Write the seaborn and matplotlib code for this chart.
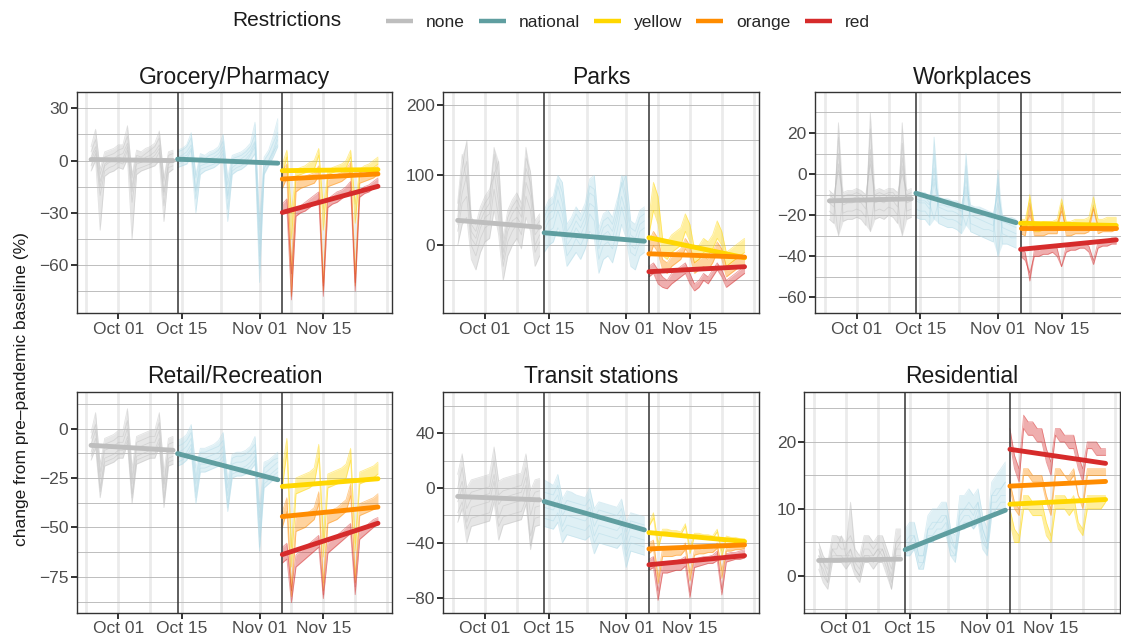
import numpy as np
import pandas as pd
import matplotlib
matplotlib.use('Agg')
import matplotlib.pyplot as plt
import matplotlib.dates as mdates
from matplotlib.lines import Line2D
import seaborn as sns

sns.set_style('ticks')
plt.rcParams['font.family'] = ['Liberation Sans', 'DejaVu Sans']

# ---- data (% change from baseline) ----
dates = pd.date_range('2020-09-25', '2020-11-27')
national_start = pd.Timestamp('2020-10-14')
tiers_start = pd.Timestamp('2020-11-06')
tiers = ['yellow', 'yellow', 'orange', 'orange', 'red', 'red']
restrictions = ['none', 'national', 'yellow', 'orange', 'red']
major_dates = ['2020-10-01', '2020-10-15', '2020-11-01', '2020-11-15']
minor_dates = ['2020-09-24', '2020-10-08', '2020-10-23T12:00', '2020-11-08', '2020-11-22', '2020-11-29']

# six example provinces per panel: Sep 25 - Oct 13 | Oct 14 - Nov 05 | Nov 06 - Nov 27
grocery = [
    [2, 8, -12, -2, 0, 1, 3, 4, 10, -15, 0, -1, 2, 3, 5, 9, -18, -1, 1]
    + [2, 3, 5, 9, -17, 0, -1, 1, 2, 4, 8, -20, -2, 0, 1, 3, 6, 11, -48, -4, 0, 5, 9]
    + [-2, 6, -30, -5, -4, -3, -1, 0, 7, -28, -6, -4, -3, -2, 0, 6, -25, -5, -3, -2, 0, 2],
    [-3, 4, -20, -6, -4, -3, -1, -2, 6, -24, -5, -4, -3, -2, 0, 5, -26, -4, -3]
    + [-2, -1, 1, 6, -22, -5, -4, -3, -2, 0, 4, -28, -6, -4, -3, -1, 3, 8, -62, -7, -2, 4, 12]
    + [-8, 2, -45, -9, -8, -7, -6, -5, 3, -40, -8, -7, -6, -5, -4, 2, -36, -7, -6, -5, -4, -2],
    [5, 12, -8, 2, 3, 4, 6, 7, 14, -10, 3, 2, 4, 6, 8, 13, -12, 3, 4]
    + [5, 6, 8, 13, -10, 2, 1, 3, 4, 6, 11, -14, 1, 2, 3, 5, 8, 15, -40, 0, 4, 10, 16]
    + [-6, -2, -60, -12, -10, -9, -8, -7, -3, -70, -11, -9, -8, -7, -5, -1, -65, -9, -8, -6, -5, -3],
    [-6, 0, -40, -9, -7, -6, -4, -5, 1, -45, -8, -6, -5, -4, -3, 0, -35, -7, -5]
    + [-4, -3, -2, 2, -30, -8, -6, -5, -4, -2, 1, -35, -8, -6, -5, -3, 0, 4, -70, -8, -3, 2, 8]
    + [-16, -10, -78, -18, -16, -15, -14, -13, -9, -75, -15, -14, -13, -12, -10, -6, -72, -13, -12, -11, -10, -8],
    [0, 6, -15, -3, -1, 0, 2, 1, 8, -18, -2, -1, 0, 1, 3, 7, -20, -2, 0]
    + [1, 2, 3, 7, -18, -3, -2, -1, 0, 2, 6, -22, -4, -2, -1, 1, 4, 10, -55, -5, 0, 6, 14]
    + [-25, -22, -65, -28, -26, -24, -22, -20, -18, -72, -22, -20, -18, -17, -15, -12, -70, -17, -15, -14, -12, -10],
    [8, 18, -5, 5, 6, 7, 9, 9, 20, -8, 6, 5, 7, 8, 10, 17, -10, 5, 6]
    + [6, 7, 9, 16, -8, 4, 3, 5, 6, 8, 15, -10, 3, 4, 5, 7, 10, 22, -35, 2, 6, 14, 24]
    + [-30, -28, -80, -32, -30, -29, -27, -25, -22, -78, -27, -25, -24, -22, -20, -17, -75, -21, -19, -18, -16, -14],
]
parks = [
    [40, 95, 120, 20, 10, 35, 50, 60, 130, 80, -10, 30, 45, 55, 40, 110, 90, 15, 25]
    + [30, 45, 50, 85, 60, 10, 20, 35, 25, 40, 75, 70, 5, 25, 30, 20, 45, 90, 60, 15, 10, 30, 35]
    + [40, 90, 70, 10, 5, 15, 20, 25, 45, 30, -5, 0, 10, 5, 15, 35, 20, -10, -5, 0, 5, 10],
    [20, 60, 70, 0, -15, 10, 25, 30, 80, 40, -30, 5, 20, 30, 15, 70, 50, -10, 5]
    + [10, 20, 25, 50, 30, -15, -5, 10, 0, 15, 45, 35, -20, 0, 5, -5, 20, 55, 30, -10, -15, 5, 10]
    + [15, 50, 30, -15, -20, -10, -5, 0, 20, 5, -25, -20, -10, -15, -5, 10, 0, -30, -25, -20, -15, -10],
    [50, 110, 150, 30, 20, 45, 60, 70, 140, 100, 0, 40, 55, 65, 50, 125, 105, 25, 35]
    + [40, 55, 60, 95, 75, 20, 30, 45, 35, 50, 85, 80, 15, 35, 40, 30, 55, 100, 70, 25, 20, 40, 45]
    + [5, 20, 10, -20, -25, -15, -10, -5, 10, 0, -25, -20, -15, -20, -10, 5, -5, -30, -25, -20, -20, -15],
    [0, 30, 40, -20, -35, -10, 5, 10, 50, 15, -50, -15, 0, 10, -5, 40, 20, -30, -15]
    + [-10, 0, 5, 25, 10, -30, -20, -10, -20, -5, 20, 10, -40, -20, -15, -25, 0, 30, 10, -30, -35, -15, -10]
    + [-20, 0, -10, -35, -40, -30, -25, -20, -5, -15, -40, -35, -30, -35, -25, -10, -20, -45, -40, -35, -30, -30],
    [30, 75, 100, 10, 0, 25, 40, 45, 105, 60, -20, 20, 35, 40, 30, 90, 70, 0, 15]
    + [20, 35, 40, 65, 45, 0, 10, 25, 15, 30, 60, 55, -5, 15, 20, 10, 35, 70, 45, 0, -5, 20, 25]
    + [-30, -25, -35, -45, -50, -40, -35, -30, -25, -40, -55, -50, -40, -45, -35, -25, -35, -50, -45, -40, -35, -30],
    [60, 130, 90, 40, 30, 55, 70, 80, 100, 120, 10, 50, 65, 75, 60, 140, 80, 35, 45]
    + [50, 65, 70, 100, 90, 30, 40, 55, 45, 60, 95, 100, 25, 45, 50, 40, 65, 85, 100, 35, 30, 50, 55]
    + [-45, -40, -55, -60, -62, -55, -50, -45, -40, -55, -65, -60, -50, -55, -45, -35, -45, -60, -55, -50, -45, -40],
]
workplaces = [
    [-12, -14, 10, -13, -12, -12, -11, -12, -14, 12, -12, -11, -12, -10, -11, -13, 8, -12, -11]
    + [-12, -13, -13, -15, 3, -15, -15, -16, -16, -17, -18, -2, -18, -19, -19, -20, -20, -21, -6, -22, -22, -23, -23]
    + [-22, -22, -12, -24, -24, -23, -23, -23, -22, -12, -23, -23, -22, -22, -22, -21, -11, -22, -22, -21, -21, -21],
    [-18, -20, 18, -19, -18, -18, -17, -18, -21, 22, -18, -17, -18, -16, -17, -20, 15, -18, -17]
    + [-17, -18, -18, -21, 10, -20, -21, -22, -22, -23, -25, 4, -24, -25, -26, -27, -27, -28, -2, -29, -30, -31, -31]
    + [-26, -27, -10, -28, -28, -27, -27, -27, -26, -14, -27, -27, -26, -26, -26, -25, -15, -26, -26, -25, -25, -25],
    [-8, -10, 2, -9, -8, -8, -7, -8, -10, 5, -8, -7, -8, -7, -7, -9, 0, -8, -7]
    + [-8, -9, -9, -11, -2, -11, -12, -12, -13, -13, -15, -6, -15, -16, -16, -17, -18, -19, -10, -20, -21, -21, -22]
    + [-24, -25, -20, -26, -26, -26, -25, -25, -24, -18, -26, -26, -25, -25, -25, -24, -17, -25, -25, -24, -24, -24],
    [-22, -24, 25, -23, -22, -22, -21, -22, -25, 30, -22, -21, -22, -20, -21, -24, 25, -22, -21]
    + [-21, -22, -22, -25, 18, -24, -25, -26, -26, -27, -29, 10, -28, -29, -30, -31, -32, -33, 2, -34, -34, -35, -36]
    + [-29, -30, -14, -30, -30, -30, -29, -29, -29, -15, -30, -30, -29, -29, -29, -28, -16, -29, -28, -28, -28, -27],
    [-14, -16, 5, -15, -14, -14, -13, -14, -17, 8, -14, -13, -14, -12, -13, -16, 4, -14, -13]
    + [-13, -14, -14, -17, -4, -16, -17, -18, -18, -19, -21, -8, -20, -21, -22, -23, -24, -25, -14, -26, -27, -28, -29]
    + [-36, -38, -52, -37, -37, -36, -36, -35, -36, -45, -35, -35, -34, -34, -33, -35, -42, -33, -32, -32, -31, -31],
    [-10, -12, -30, -11, -10, -10, -9, -10, -13, -28, -10, -9, -10, -9, -9, -12, -30, -10, -9]
    + [-10, -11, -11, -14, -22, -13, -14, -15, -15, -16, -18, -25, -17, -18, -19, -20, -21, -22, -40, -23, -24, -25, -26]
    + [-40, -42, -48, -40, -40, -39, -39, -38, -40, -45, -38, -37, -37, -36, -36, -38, -44, -36, -35, -35, -34, -34],
]
retail = [
    [-5, 2, -22, -8, -7, -6, -4, -4, 4, -25, -7, -6, -5, -4, -4, 3, -28, -8, -7]
    + [-9, -8, -6, -2, -25, -12, -12, -11, -10, -9, -6, -30, -15, -14, -14, -13, -11, -8, -45, -20, -18, -16, -15]
    + [-20, -5, -60, -25, -24, -23, -22, -20, -8, -55, -23, -22, -21, -20, -18, -10, -58, -22, -21, -20, -19, -17],
    [-12, -5, -30, -15, -14, -13, -11, -11, -4, -33, -14, -13, -12, -11, -11, -5, -35, -15, -14]
    + [-15, -14, -12, -8, -32, -18, -18, -17, -16, -15, -12, -38, -21, -20, -20, -19, -17, -14, -55, -26, -24, -22, -20]
    + [-30, -12, -70, -33, -32, -31, -30, -28, -15, -65, -30, -29, -28, -27, -25, -16, -62, -28, -27, -26, -25, -23],
    [-2, 8, -18, -5, -4, -3, -1, -1, 10, -20, -4, -3, -2, -1, -1, 8, -22, -5, -4]
    + [-6, -5, -3, 2, -20, -10, -10, -9, -8, -6, -2, -26, -13, -12, -12, -11, -9, -4, -40, -17, -16, -14, -12]
    + [-42, -35, -80, -45, -44, -43, -42, -40, -32, -78, -42, -41, -40, -38, -36, -28, -75, -38, -37, -36, -35, -33],
    [-16, -10, -35, -19, -18, -17, -15, -15, -8, -38, -18, -17, -16, -15, -15, -9, -40, -19, -18]
    + [-19, -18, -16, -12, -38, -22, -22, -21, -20, -19, -16, -42, -25, -24, -24, -23, -21, -18, -62, -30, -28, -26, -24]
    + [-50, -42, -85, -52, -51, -50, -48, -46, -38, -82, -48, -47, -46, -44, -42, -34, -78, -44, -43, -42, -41, -40],
    [-8, -1, -25, -11, -10, -9, -7, -7, 0, -28, -10, -9, -8, -7, -7, -1, -30, -11, -10]
    + [-12, -11, -9, -5, -28, -15, -15, -14, -13, -12, -9, -34, -18, -17, -17, -16, -14, -11, -50, -23, -21, -19, -17]
    + [-60, -58, -82, -64, -62, -60, -58, -56, -54, -84, -58, -56, -54, -52, -50, -48, -80, -52, -50, -48, -46, -45],
    [-14, -8, -32, -17, -16, -15, -13, -13, -6, -35, -16, -15, -14, -13, -13, -7, -38, -17, -16]
    + [-17, -16, -14, -10, -35, -20, -20, -19, -18, -17, -14, -40, -23, -22, -22, -21, -19, -16, -60, -28, -26, -24, -22]
    + [-68, -66, -88, -70, -68, -66, -64, -62, -60, -86, -63, -61, -59, -57, -55, -53, -84, -56, -54, -52, -50, -48],
]
transit = [
    [-5, 5, -15, -8, -7, -6, -5, -4, 10, -12, -7, -6, -5, -4, -3, 8, -20, -8, -7]
    + [-8, -9, -10, -5, -20, -14, -15, -16, -17, -18, -14, -28, -21, -22, -23, -24, -25, -20, -38, -28, -29, -30, -31]
    + [-28, -22, -45, -32, -32, -33, -33, -34, -28, -48, -35, -35, -36, -36, -37, -32, -50, -37, -38, -38, -39, -39],
    [10, 25, 0, 6, 7, 8, 9, 10, 30, 5, 7, 8, 9, 10, 11, 25, -2, 6, 7]
    + [6, 4, 2, 10, -8, -2, -3, -5, -6, -7, 0, -15, -10, -11, -12, -13, -14, -8, -25, -18, -19, -20, -21]
    + [-25, -18, -40, -30, -30, -31, -31, -32, -26, -44, -33, -33, -34, -34, -35, -30, -46, -35, -36, -36, -37, -37],
    [-18, -10, -30, -22, -21, -20, -19, -18, -5, -28, -21, -20, -19, -18, -17, -8, -35, -22, -21]
    + [-22, -23, -24, -18, -32, -27, -28, -29, -30, -31, -27, -40, -33, -34, -35, -36, -37, -33, -50, -40, -41, -42, -43]
    + [-40, -38, -65, -44, -44, -45, -45, -45, -40, -62, -45, -45, -44, -44, -44, -40, -60, -44, -43, -43, -43, -42],
    [-10, 0, -25, -14, -13, -12, -11, -10, 5, -22, -13, -12, -11, -10, -9, 2, -45, -14, -13]
    + [-14, -15, -16, -10, -28, -20, -21, -22, -23, -24, -20, -35, -27, -28, -29, -30, -31, -27, -45, -35, -36, -37, -38]
    + [-48, -45, -70, -50, -50, -50, -49, -49, -45, -68, -49, -48, -48, -47, -47, -44, -66, -46, -46, -45, -45, -44],
    [0, 15, -8, -3, -2, -1, 0, 1, 20, -5, -2, -1, 0, 1, 2, 15, -10, -3, -2]
    + [-3, -4, -5, 2, -15, -9, -10, -11, -12, -13, -8, -22, -16, -17, -18, -19, -20, -15, -32, -24, -25, -26, -27]
    + [-52, -50, -75, -55, -54, -54, -53, -52, -50, -76, -52, -51, -50, -50, -49, -46, -74, -48, -47, -47, -46, -45],
    [-25, -15, -40, -28, -27, -26, -25, -24, -10, -38, -27, -26, -25, -24, -23, -12, -42, -28, -27]
    + [-28, -29, -30, -25, -40, -34, -35, -36, -37, -38, -35, -48, -40, -41, -42, -43, -44, -40, -58, -46, -47, -48, -49]
    + [-60, -58, -82, -62, -62, -61, -60, -60, -57, -80, -58, -57, -56, -55, -55, -53, -78, -54, -53, -52, -52, -51],
]
residential = [
    [2, 1, -1, 3, 3, 3, 2, 4, 1, 0, 3, 3, 2, 3, 4, 2, -1, 4, 4]
    + [4, 5, 5, 2, 2, 6, 6, 7, 7, 8, 4, 3, 8, 9, 9, 8, 10, 6, 4, 11, 11, 12, 12]
    + [10, 7, 6, 12, 12, 11, 11, 11, 8, 6, 12, 12, 12, 11, 12, 8, 7, 12, 12, 12, 12, 12],
    [4, 2, 1, 5, 5, 4, 4, 11, 3, 2, 5, 5, 4, 5, 5, 3, 1, 5, 6]
    + [5, 6, 6, 3, 3, 7, 8, 8, 9, 9, 6, 4, 10, 10, 11, 10, 11, 7, 5, 12, 13, 13, 14]
    + [8, 5, 5, 10, 10, 9, 9, 9, 6, 5, 10, 10, 10, 9, 10, 7, 6, 10, 10, 10, 10, 11],
    [3, 0, -1, 4, 3, 3, 3, 3, 1, 0, 3, 3, 3, 4, 3, 1, -2, 4, 5]
    + [3, 4, 4, 1, 2, 5, 5, 6, 6, 7, 3, 3, 7, 8, 8, 7, 9, 5, 4, 10, 10, 11, 11]
    + [13, 10, 9, 15, 15, 14, 14, 14, 11, 9, 15, 15, 15, 14, 15, 12, 10, 15, 15, 15, 15, 15],
    [1, -1, -2, 2, 2, 2, 1, 2, 0, -1, 2, 2, 1, 2, 2, 0, -2, 3, 3]
    + [3, 3, 4, 1, 1, 5, 5, 6, 6, 6, 3, 2, 7, 7, 8, 7, 8, 4, 3, 9, 10, 10, 10]
    + [14, 11, 10, 16, 16, 15, 15, 15, 12, 10, 16, 16, 15, 15, 16, 12, 11, 16, 16, 16, 16, 16],
    [3, 2, 0, 4, 4, 6, 3, 4, 2, 1, 4, 4, 3, 4, 4, 2, 0, 5, 5]
    + [5, 5, 6, 3, 3, 7, 7, 8, 8, 9, 5, 4, 9, 10, 10, 9, 11, 7, 5, 12, 12, 13, 14]
    + [20, 16, 14, 22, 21, 21, 20, 20, 17, 15, 21, 20, 20, 19, 19, 16, 14, 19, 19, 18, 18, 18],
    [5, 3, 2, 6, 6, 5, 5, 6, 4, 3, 6, 6, 5, 6, 6, 4, 2, 7, 7]
    + [7, 8, 8, 5, 5, 9, 10, 10, 11, 11, 7, 6, 12, 12, 13, 12, 13, 9, 7, 14, 15, 16, 17]
    + [22, 18, 16, 24, 23, 23, 22, 22, 19, 17, 22, 22, 21, 21, 21, 18, 16, 20, 20, 20, 19, 19],
]

# fitted trend per restriction: (value at start of period, value at end of period)
trend_grocery = {'none': (0.6, 0.0), 'national': (0.8, -1.5), 'yellow': (-5.8, -5.2),
                 'orange': (-10.6, -7.7), 'red': (-29.8, -14.8)}
trend_parks = {'none': (35.7, 26.0), 'national': (18.0, 6.0), 'yellow': (11.0, -17.6),
               'orange': (-12.0, -16.7), 'red': (-37.6, -30.5)}
trend_workplaces = {'none': (-13.0, -12.0), 'national': (-9.3, -23.6), 'yellow': (-23.9, -25.0),
                    'orange': (-26.3, -26.3), 'red': (-36.6, -32.0)}
trend_retail = {'none': (-8.5, -11.0), 'national': (-12.7, -25.9), 'yellow': (-29.3, -25.4),
                'orange': (-44.5, -39.7), 'red': (-63.7, -47.9)}
trend_transit = {'none': (-6.1, -8.6), 'national': (-9.8, -30.5), 'yellow': (-32.5, -39.0),
                 'orange': (-44.4, -41.5), 'red': (-56.0, -49.3)}
trend_residential = {'none': (2.3, 2.5), 'national': (3.9, 9.8), 'yellow': (10.7, 11.4),
                     'orange': (13.4, 14.1), 'red': (18.9, 16.8)}

line_col = {'none': '#BEBEBE', 'national': '#ADD8E6', 'yellow': '#FFD700',
            'orange': '#FF8C00', 'red': '#D62B2B'}
trend_col = {'none': '#BEBEBE', 'national': '#5F9EA0', 'yellow': '#FFD700',
             'orange': '#FF8C00', 'red': '#D62B2B'}

periods = {'none': (dates[0], national_start - pd.Timedelta(days=1)),
           'national': (national_start, tiers_start - pd.Timedelta(days=1)),
           'yellow': (tiers_start, dates[-1]),
           'orange': (tiers_start, dates[-1]),
           'red': (tiers_start, dates[-1])}

W, H = 1121, 635
fig = plt.figure(figsize=(W / 100, H / 100), dpi=100)


def add_panel(left, top, series, trend, title, ylim, major, minor):
    ax = fig.add_axes([left / W, 1 - (top + 221) / H, 315.6 / W, 221 / H])
    rows = []
    for i, vals in enumerate(series):
        assert len(vals) == len(dates), (title, i, len(vals))
        for d, v in zip(dates, vals):
            if d < national_start:
                r, ph = 'none', 0
            elif d < tiers_start:
                r, ph = 'national', 1
            else:
                r, ph = tiers[i], 2
            rows.append((d, v, r, f'{i}-{ph}'))
    df = pd.DataFrame(rows, columns=['date', 'value', 'restr', 'seg'])

    # envelope of the provinces, so the bundle reads as a dense band
    for r in restrictions:
        g = df[df.restr == r]
        env = g.groupby('date')['value'].agg(['min', 'max'])
        ax.fill_between(env.index, env['min'], env['max'], color=line_col[r],
                        alpha=0.38, lw=0, zorder=1)
    sns.lineplot(data=df, x='date', y='value', hue='restr', units='seg',
                 estimator=None, palette=line_col, lw=0.6, alpha=0.45,
                 legend=False, ax=ax, zorder=2)

    for d in [national_start, tiers_start]:
        ax.axvline(d, color='#333333', lw=1.1, zorder=3)

    tr = pd.DataFrame([(periods[r][k], trend[r][k], r) for r in restrictions for k in (0, 1)],
                      columns=['date', 'value', 'restr'])
    sns.lineplot(data=tr, x='date', y='value', hue='restr', units='restr',
                 estimator=None, palette=trend_col, lw=3.5, legend=False,
                 ax=ax, zorder=4)

    span = dates[-1] - dates[0]
    ax.set_xlim(dates[0] - span * 0.05, dates[-1] + span * 0.05)
    ax.set_ylim(*ylim)
    ax.xaxis.set_major_locator(plt.FixedLocator(mdates.date2num(pd.to_datetime(major_dates))))
    ax.xaxis.set_major_formatter(mdates.DateFormatter('%b %d'))
    ax.xaxis.set_minor_locator(plt.FixedLocator(mdates.date2num(
        pd.to_datetime(minor_dates, format='ISO8601'))))
    ax.set_yticks(major)
    ax.set_yticks(minor, minor=True)
    ax.set_axisbelow(True)
    ax.grid(which='both', axis='x', color='#EBEBEB', lw=2.0, zorder=0)
    ax.grid(which='both', axis='y', color='#BDBDBD', lw=0.7, zorder=0)
    ax.tick_params(which='major', length=4, width=1.4, color='#333333',
                   labelcolor='#4D4D4D', labelsize=12.5, pad=2)
    ax.tick_params(which='minor', length=0)
    for s in ax.spines.values():
        s.set_color('#333333')
        s.set_linewidth(1.0)
    ax.set_xlabel('')
    ax.set_ylabel('')
    ax.set_title(title, fontsize=16.5, color='#1A1A1A', pad=6)
    return ax


add_panel(76.7, 92.3, grocery, trend_grocery, 'Grocery/Pharmacy', (-87.7, 39.2),
          [-60, -30, 0, 30], [-75, -45, -15, 15])
add_panel(443.3, 92.3, parks, trend_parks, 'Parks', (-97, 218.6),
          [0, 100, 200], [-50, 50, 150])
add_panel(815, 92.3, workplaces, trend_workplaces, 'Workplaces', (-67.7, 39.8),
          [-60, -40, -20, 0, 20], [-50, -30, -10, 10, 30])
add_panel(76.7, 391.7, retail, trend_retail, 'Retail/Recreation', (-93.1, 18.6),
          [-75, -50, -25, 0], [-87.5, -62.5, -37.5, -12.5, 12.5])
add_panel(443.3, 391.7, transit, trend_transit, 'Transit stations', (-91, 70.4),
          [-80, -40, 0, 40], [-60, -20, 20, 60])
add_panel(804.3, 391.7, residential, trend_residential, 'Residential', (-5.5, 27.5),
          [0, 10, 20], [-5, 5, 15, 25])

fig.text(22 / W, 1 - 389 / H, 'change from pre\u2013pandemic baseline (%)', rotation=90,
         ha='center', va='center', fontsize=12.5, color='#1A1A1A')

fig.text(232 / W, 1 - 21 / H, 'Restrictions', ha='left', va='center', fontsize=15,
         color='#1A1A1A')
handles = [Line2D([], [], color=trend_col[r], lw=3.2, solid_capstyle='butt') for r in restrictions]
fig.legend(handles, restrictions, loc='center left', bbox_to_anchor=(386 / W, 1 - 22 / H),
           ncol=5, frameon=False, fontsize=12.5, handlelength=1.55, handletextpad=0.76,
           columnspacing=0.8, borderpad=0, borderaxespad=0)

fig.savefig('out.png', dpi=100)
